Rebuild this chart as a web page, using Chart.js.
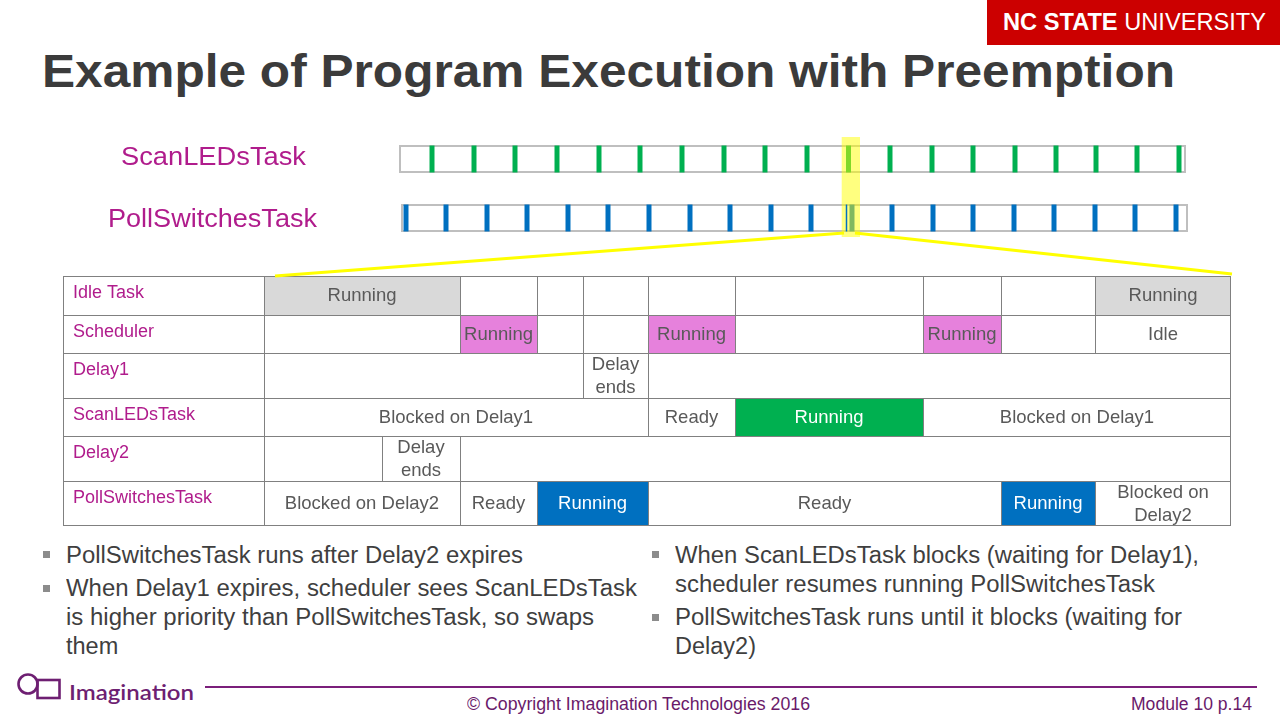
<!DOCTYPE html>
<html><head><meta charset="utf-8">
<script src="https://cdn.jsdelivr.net/npm/chart.js@4/dist/chart.umd.min.js"></script>
<style>
html,body{margin:0;padding:0;background:#fff;}
body{width:1280px;height:720px;position:relative;overflow:hidden;font-family:'Liberation Sans',Arial,sans-serif;}
.t{position:absolute;white-space:nowrap;line-height:1;transform-origin:0 0;}
canvas{position:absolute;left:0;}
</style></head><body>
<div style="position:absolute;left:987px;top:0;width:293px;height:45px;background:#cc0000"></div>
<canvas id="tl" width="1280" height="170" style="top:120px"></canvas>
<canvas id="tb" width="1280" height="305" style="top:230px"></canvas>
<svg style="position:absolute;left:0;top:660px" width="210" height="50" viewBox="0 660 210 50">
  <circle cx="28" cy="684" r="9.5" fill="none" stroke="#6e1f72" stroke-width="2.6"/>
  <rect x="37.5" y="680" width="22" height="18" fill="none" stroke="#6e1f72" stroke-width="2.6"/>
</svg>
<div style="position:absolute;left:205px;top:686px;width:1052px;height:1.5px;background:#7b1f7b"></div>
<script>
// ---------- DATA ----------
// top timelines (time units along the strip)
const scanLEDsTicks = [33, 75, 116, 158, 200, 241, 283, 325, 366, 408, 449.5, 491, 533, 574, 616, 657, 697, 738, 780];
const pollSwitchesTicks = [7, 47, 88, 128, 169, 209, 250, 291, 331, 372, 412, 453, 493, 534, 574, 615, 655, 696, 736, 777];
const pollSplitTick = [447.5];
const scanLEDsSpan = [1, 786];
const pollSwitchesSpan = [3, 788];
const highlightSpan = [442.7, 461];

// table rows: [start, end, text]
const rowNames = ['Idle Task', 'Scheduler', 'Delay1', 'ScanLEDsTask', 'Delay2', 'PollSwitchesTask'];
const idleTaskCells = [[0,196,'Running'],[196,273,''],[273,319,''],[319,384,''],[384,471,''],[471,659,''],[659,737,''],[737,831,''],[831,967,'Running']];
const schedulerCells = [[0,196,''],[196,273,'Running'],[273,319,''],[319,384,''],[384,471,'Running'],[471,659,''],[659,737,'Running'],[737,831,''],[831,967,'Idle']];
const delay1Cells = [[0,319,''],[319,384,'Delay\nends'],[384,967,'']];
const scanLEDsCells = [[0,384,'Blocked on Delay1'],[384,471,'Ready'],[471,659,'Running'],[659,967,'Blocked on Delay1']];
const delay2Cells = [[0,118,''],[118,196,'Delay\nends'],[196,967,'']];
const pollSwitchesCells = [[0,196,'Blocked on Delay2'],[196,273,'Ready'],[273,384,'Running'],[384,737,'Ready'],[737,831,'Running'],[831,967,'Blocked on\nDelay2']];

// ---------- LAYOUT / STYLE ----------
const TL_TOP = 120, TB_TOP = 230;
const ROW_H = [39, 38, 45, 38, 45, 45];
const LABEL_START = -201;
const RUN_FILL = ['#d9d9d9', '#e681dc', '#ffffff', '#00b050', '#ffffff', '#0070c0'];
const RUN_TEXT = ['#595959', '#595959', '#595959', '#ffffff', '#595959', '#ffffff'];
const MAGENTA = '#b01c8c';
const GREEN = '#00b050', BLUE = '#0070c0';

// ---------- TIMELINE CHART ----------
const tickDs = (vals, y, color, w) => ({
  data: vals.map(x => ({x, y})),
  pointStyle: 'line', pointRadius: 13.5, pointHoverRadius: 13.5, pointRotation: 90,
  pointBorderWidth: w, pointBorderColor: color, pointBackgroundColor: color, clip: false
});
const boxes = {
  id: 'boxes',
  beforeDatasetsDraw(chart) {
    const {ctx, scales: {x, y}} = chart;
    ctx.save();
    ctx.strokeStyle = '#bfbfbf'; ctx.lineWidth = 2;
    [[scanLEDsSpan, 1], [pollSwitchesSpan, 0]].forEach(([sp, row]) => {
      const x0 = x.getPixelForValue(sp[0]), x1 = x.getPixelForValue(sp[1]);
      const yc = y.getPixelForValue(row);
      ctx.strokeRect(x0, yc - 13, x1 - x0, 26);
    });
    ctx.restore();
  }
};
const highlight = {
  id: 'highlight',
  afterDatasetDraw(chart, args) {
    if (args.index !== 1) return;
    const {ctx, scales: {x, y}} = chart;
    const x0 = x.getPixelForValue(highlightSpan[0]), x1 = x.getPixelForValue(highlightSpan[1]);
    const top = y.getPixelForValue(1) - 22, bottom = y.getPixelForValue(0) + 19;
    ctx.save();
    ctx.fillStyle = 'rgba(255,255,0,0.5)';
    ctx.fillRect(x0, top, x1 - x0, bottom - top);
    ctx.restore();
  }
};
const chartA = new Chart(document.getElementById('tl'), {
  type: 'scatter',
  data: { datasets: [
    tickDs(pollSplitTick, 0, BLUE, 1.5),
    tickDs(scanLEDsTicks, 1, GREEN, 5),
    tickDs(pollSwitchesTicks, 0, BLUE, 5)
  ]},
  options: {
    responsive: false, animation: false, devicePixelRatio: 1, events: [],
    layout: { padding: { left: 399, right: 93, top: 39, bottom: 72 } },
    scales: {
      x: { type: 'linear', min: 0, max: 788, display: false, offset: false },
      y: { type: 'linear', min: 0, max: 1, display: false, offset: false }
    },
    plugins: { legend: { display: false }, tooltip: { enabled: false } }
  },
  plugins: [boxes, highlight]
});

// ---------- TABLE CHART ----------
const rows = [idleTaskCells, schedulerCells, delay1Cells, scanLEDsCells, delay2Cells, pollSwitchesCells];
let acc = 0;
const tableSets = rows.map((cells, r) => {
  const c = acc + ROW_H[r] / 2; acc += ROW_H[r];
  const data = [{ x: [LABEL_START, 0], y: c, t: rowNames[r], label: true }]
    .concat(cells.map(s => ({ x: [s[0], s[1]], y: c, t: s[2] })));
  return {
    data, stack: 'rows', barThickness: ROW_H[r], borderSkipped: false, inflateAmount: 0,
    borderColor: '#808080',
    backgroundColor: ctx => (ctx.raw && ctx.raw.t === 'Running') ? RUN_FILL[r] : '#ffffff',
    borderWidth: ctx => ({ top: 1, left: 1, right: ctx.dataIndex === data.length - 1 ? 1 : 0, bottom: r === rows.length - 1 ? 1 : 0 })
  };
});
const cellText = {
  id: 'cellText',
  afterDatasetsDraw(chart) {
    const ctx = chart.ctx;
    chart.data.datasets.forEach((ds, r) => {
      const meta = chart.getDatasetMeta(r);
      meta.data.forEach((el, i) => {
        const raw = ds.data[i];
        if (!raw.t) return;
        const p = el.getProps(['x', 'base', 'y', 'height'], true);
        const left = Math.min(p.x, p.base), right = Math.max(p.x, p.base), top = p.y - p.height / 2;
        ctx.save();
        ctx.textBaseline = 'middle';
        if (raw.label) {
          ctx.font = '18px "Liberation Sans", Arial, sans-serif';
          ctx.fillStyle = MAGENTA; ctx.textAlign = 'left';
          ctx.fillText(raw.t, left + 10, top + 17.5);
        } else {
          ctx.font = '18.5px "Liberation Sans", Arial, sans-serif';
          ctx.fillStyle = raw.t === 'Running' ? RUN_TEXT[r] : '#595959';
          ctx.textAlign = 'center';
          const lines = raw.t.split('\n');
          lines.forEach((ln, k) => ctx.fillText(ln, (left + right) / 2, p.y + 0.5 + (k - (lines.length - 1) / 2) * 23));
        }
        ctx.restore();
      });
    });
  }
};
const zoomLines = {
  id: 'zoomLines',
  afterDraw(chart) {
    const ctx = chart.ctx;
    const ax = chartA.scales.x, ay = chartA.scales.y;
    const sy = ay.getPixelForValue(0) + 15 + TL_TOP - TB_TOP;
    const sx1 = ax.getPixelForValue(445), sx2 = ax.getPixelForValue(456);
    const ex1 = chart.scales.x.getPixelForValue(11), ex2 = chart.scales.x.getPixelForValue(968);
    const ey = chart.scales.y.getPixelForValue(0);
    ctx.save();
    ctx.strokeStyle = '#ffff00'; ctx.lineWidth = 3;
    ctx.beginPath();
    ctx.moveTo(sx1, sy); ctx.lineTo(ex1, ey);
    ctx.moveTo(sx2, sy); ctx.lineTo(ex2, ey - 2);
    ctx.stroke();
    ctx.restore();
  }
};
new Chart(document.getElementById('tb'), {
  type: 'bar',
  data: { datasets: tableSets },
  options: {
    indexAxis: 'y', responsive: false, animation: false, devicePixelRatio: 1, events: [],
    layout: { padding: { left: 63, right: 49, top: 46, bottom: 9 } },
    scales: {
      x: { type: 'linear', min: LABEL_START, max: 967, display: false, stacked: false, offset: false },
      y: { type: 'linear', min: 0, max: 250, reverse: true, display: false, offset: false }
    },
    plugins: { legend: { display: false }, tooltip: { enabled: false } }
  },
  plugins: [cellText, zoomLines]
});

// ---------- TEXT ----------
function addText(html, left, baseline, size, o = {}) {
  const d = document.createElement('div');
  d.className = 't';
  d.innerHTML = html;
  d.style.fontSize = size + 'px';
  if (o.color) d.style.color = o.color;
  if (o.weight) d.style.fontWeight = o.weight;
  if (o.family) d.style.fontFamily = o.family;
  d.style.top = (baseline - (o.asc || 0.8465) * size) + 'px';
  document.body.appendChild(d);
  const w = d.getBoundingClientRect().width;
  let sx = 1;
  if (o.width) { sx = o.width / w; d.style.transform = 'scaleX(' + sx + ')'; }
  if (o.center !== undefined) left = o.center - w * sx / 2;
  d.style.left = left + 'px';
  return d;
}
function bullet(left, baseline) {
  const b = document.createElement('div');
  b.style.cssText = 'position:absolute;width:7px;height:7px;background:#8c8c8c;left:' + left + 'px;top:' + (baseline - 12.5) + 'px';
  document.body.appendChild(b);
}
addText('<b>NC STATE</b> UNIVERSITY', 1003, 30.5, 23, { color: '#fff', width: 263 });
addText('Example of Program Execution with Preemption', 42, 87, 46, { color: '#3b3b3b', weight: 'bold', width: 1133 });
addText('ScanLEDsTask', 120.5, 165.7, 26.5, { color: MAGENTA, width: 185 });
addText('PollSwitchesTask', 108, 227.7, 26.5, { color: MAGENTA, width: 209 });

const BC = '#3f3f3f', BS = 23.5;
bullet(43, 563.5);
addText('PollSwitchesTask runs after Delay2 expires', 66, 563.5, BS, { color: BC, width: 457 });
bullet(43, 597);
addText('When Delay1 expires, scheduler sees ScanLEDsTask', 66, 597, BS, { color: BC, width: 571 });
addText('is higher priority than PollSwitchesTask, so swaps', 66, 626, BS, { color: BC, width: 528 });
addText('them', 66, 655, BS, { color: BC });
bullet(652, 563.5);
addText('When ScanLEDsTask blocks (waiting for Delay1),', 675, 563.5, BS, { color: BC, width: 524 });
addText('scheduler resumes running PollSwitchesTask', 675, 592.5, BS, { color: BC, width: 480 });
bullet(652, 626);
addText('PollSwitchesTask runs until it blocks (waiting for', 675, 626, BS, { color: BC, width: 507 });
addText('Delay2)', 675, 655, BS, { color: BC });

addText('Imagination', 69, 699, 21, { color: '#6e1f72', weight: '600', family: 'Lato, "Liberation Sans", sans-serif', width: 125 });
addText('© Copyright Imagination Technologies 2016', 0, 711, 17.5, { color: '#6a1a6a', center: 638.5, width: 343 });
addText('Module 10 p.14', 1131, 711, 17.5, { color: '#6a1a6a', width: 121 });
</script>
</body></html>
